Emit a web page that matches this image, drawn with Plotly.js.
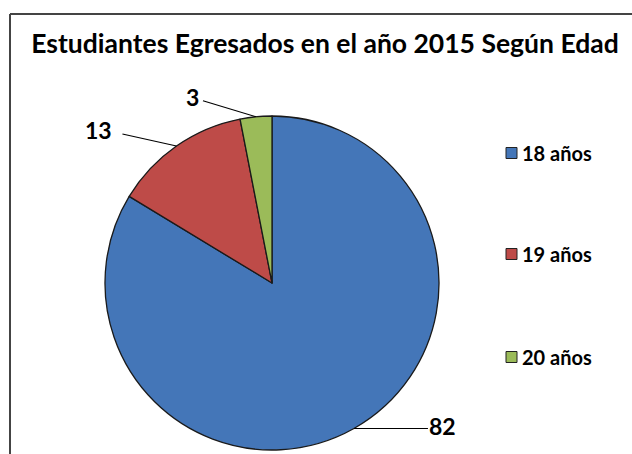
<!DOCTYPE html>
<html>
<head>
<meta charset="utf-8">
<script src="https://cdn.plot.ly/plotly-3.0.1.min.js"></script>
<style>html,body{margin:0;padding:0;background:#fff;}#chart{width:632px;height:454px;}</style>
</head>
<body>
<div id="chart"></div>
<script>
// ---- data ----
const categories = ['18 años', '19 años', '20 años'];
const values = [82, 13, 3];
const sliceColors = ['#4476B8', '#BE4B48', '#9BBB59'];
const titleText = 'Estudiantes Egresados en el año 2015 Según Edad';

// ---- layout geometry (pixels) ----
const W = 632, H = 454;
const cx = 272, cy = 283, R = 167;
// leader offsets per slice: [line end dx, dy] and [text dx, dy] from line end
const leaderEnd = [[74, 0], [-54, -12], [-53, -16]];
const textOff = [[15, -3], [-24, -4], [-10, -4]];

const px = x => x / W;
const py = y => 1 - y / H;

const total = values.reduce((a, b) => a + b, 0);
const shapes = [];
const annotations = [];
let cum = 0;
values.forEach((v, i) => {
  const mid = (cum + v / 2) / total * 2 * Math.PI;
  cum += v;
  const ex = cx + R * Math.sin(mid);
  const ey = cy - R * Math.cos(mid);
  const lx = ex + leaderEnd[i][0];
  const ly = ey + leaderEnd[i][1];
  shapes.push({type: 'line', xref: 'paper', yref: 'paper',
    x0: px(ex), y0: py(ey), x1: px(lx), y1: py(ly),
    line: {color: '#000', width: 1.2}});
  annotations.push({xref: 'paper', yref: 'paper', showarrow: false,
    x: px(lx + textOff[i][0]), y: py(ly + textOff[i][1]),
    xanchor: 'center', yanchor: 'middle',
    text: '<b>' + v + '</b>',
    font: {family: 'Lato, sans-serif', size: 23, color: '#000'}});
});

// manual legend
const legendY = [153, 254, 357];
categories.forEach((c, i) => {
  shapes.push({type: 'rect', xref: 'paper', yref: 'paper',
    x0: px(506), x1: px(517), y0: py(legendY[i] - 5.5), y1: py(legendY[i] + 5.5),
    fillcolor: sliceColors[i], line: {color: '#222', width: 1}});
  annotations.push({xref: 'paper', yref: 'paper', showarrow: false,
    x: px(520), y: py(legendY[i]), xanchor: 'left', yanchor: 'middle',
    text: '<b>' + c + '</b>',
    font: {family: 'Lato, sans-serif', size: 20, color: '#000'}});
});

// outer border (top and left edges visible)
shapes.push({type: 'line', xref: 'paper', yref: 'paper',
  x0: px(10), x1: px(10), y0: 0, y1: py(14),
  line: {color: '#444', width: 2}});
shapes.push({type: 'line', xref: 'paper', yref: 'paper',
  x0: px(10), x1: 1, y0: py(14), y1: py(14),
  line: {color: '#444', width: 2}});

const trace = {
  type: 'pie',
  labels: categories,
  values: values,
  sort: false,
  direction: 'clockwise',
  rotation: 0,
  textinfo: 'none',
  hoverinfo: 'none',
  showlegend: false,
  marker: {colors: sliceColors, line: {color: '#1a1a1a', width: 1.3}},
  domain: {x: [px(cx - R), px(cx + R)], y: [py(cy + R), py(cy - R)]}
};

const layout = {
  width: W, height: H,
  margin: {l: 0, r: 0, t: 0, b: 0},
  paper_bgcolor: '#fff',
  title: {text: '<b>' + titleText + '</b>', x: 325 / W, xanchor: 'center',
    y: py(44), yanchor: 'middle', yref: 'paper',
    font: {family: 'Lato, sans-serif', size: 26.5, color: '#000'}},
  shapes: shapes,
  annotations: annotations
};

Plotly.newPlot('chart', [trace], layout, {displayModeBar: false, staticPlot: true});
</script>
</body>
</html>
